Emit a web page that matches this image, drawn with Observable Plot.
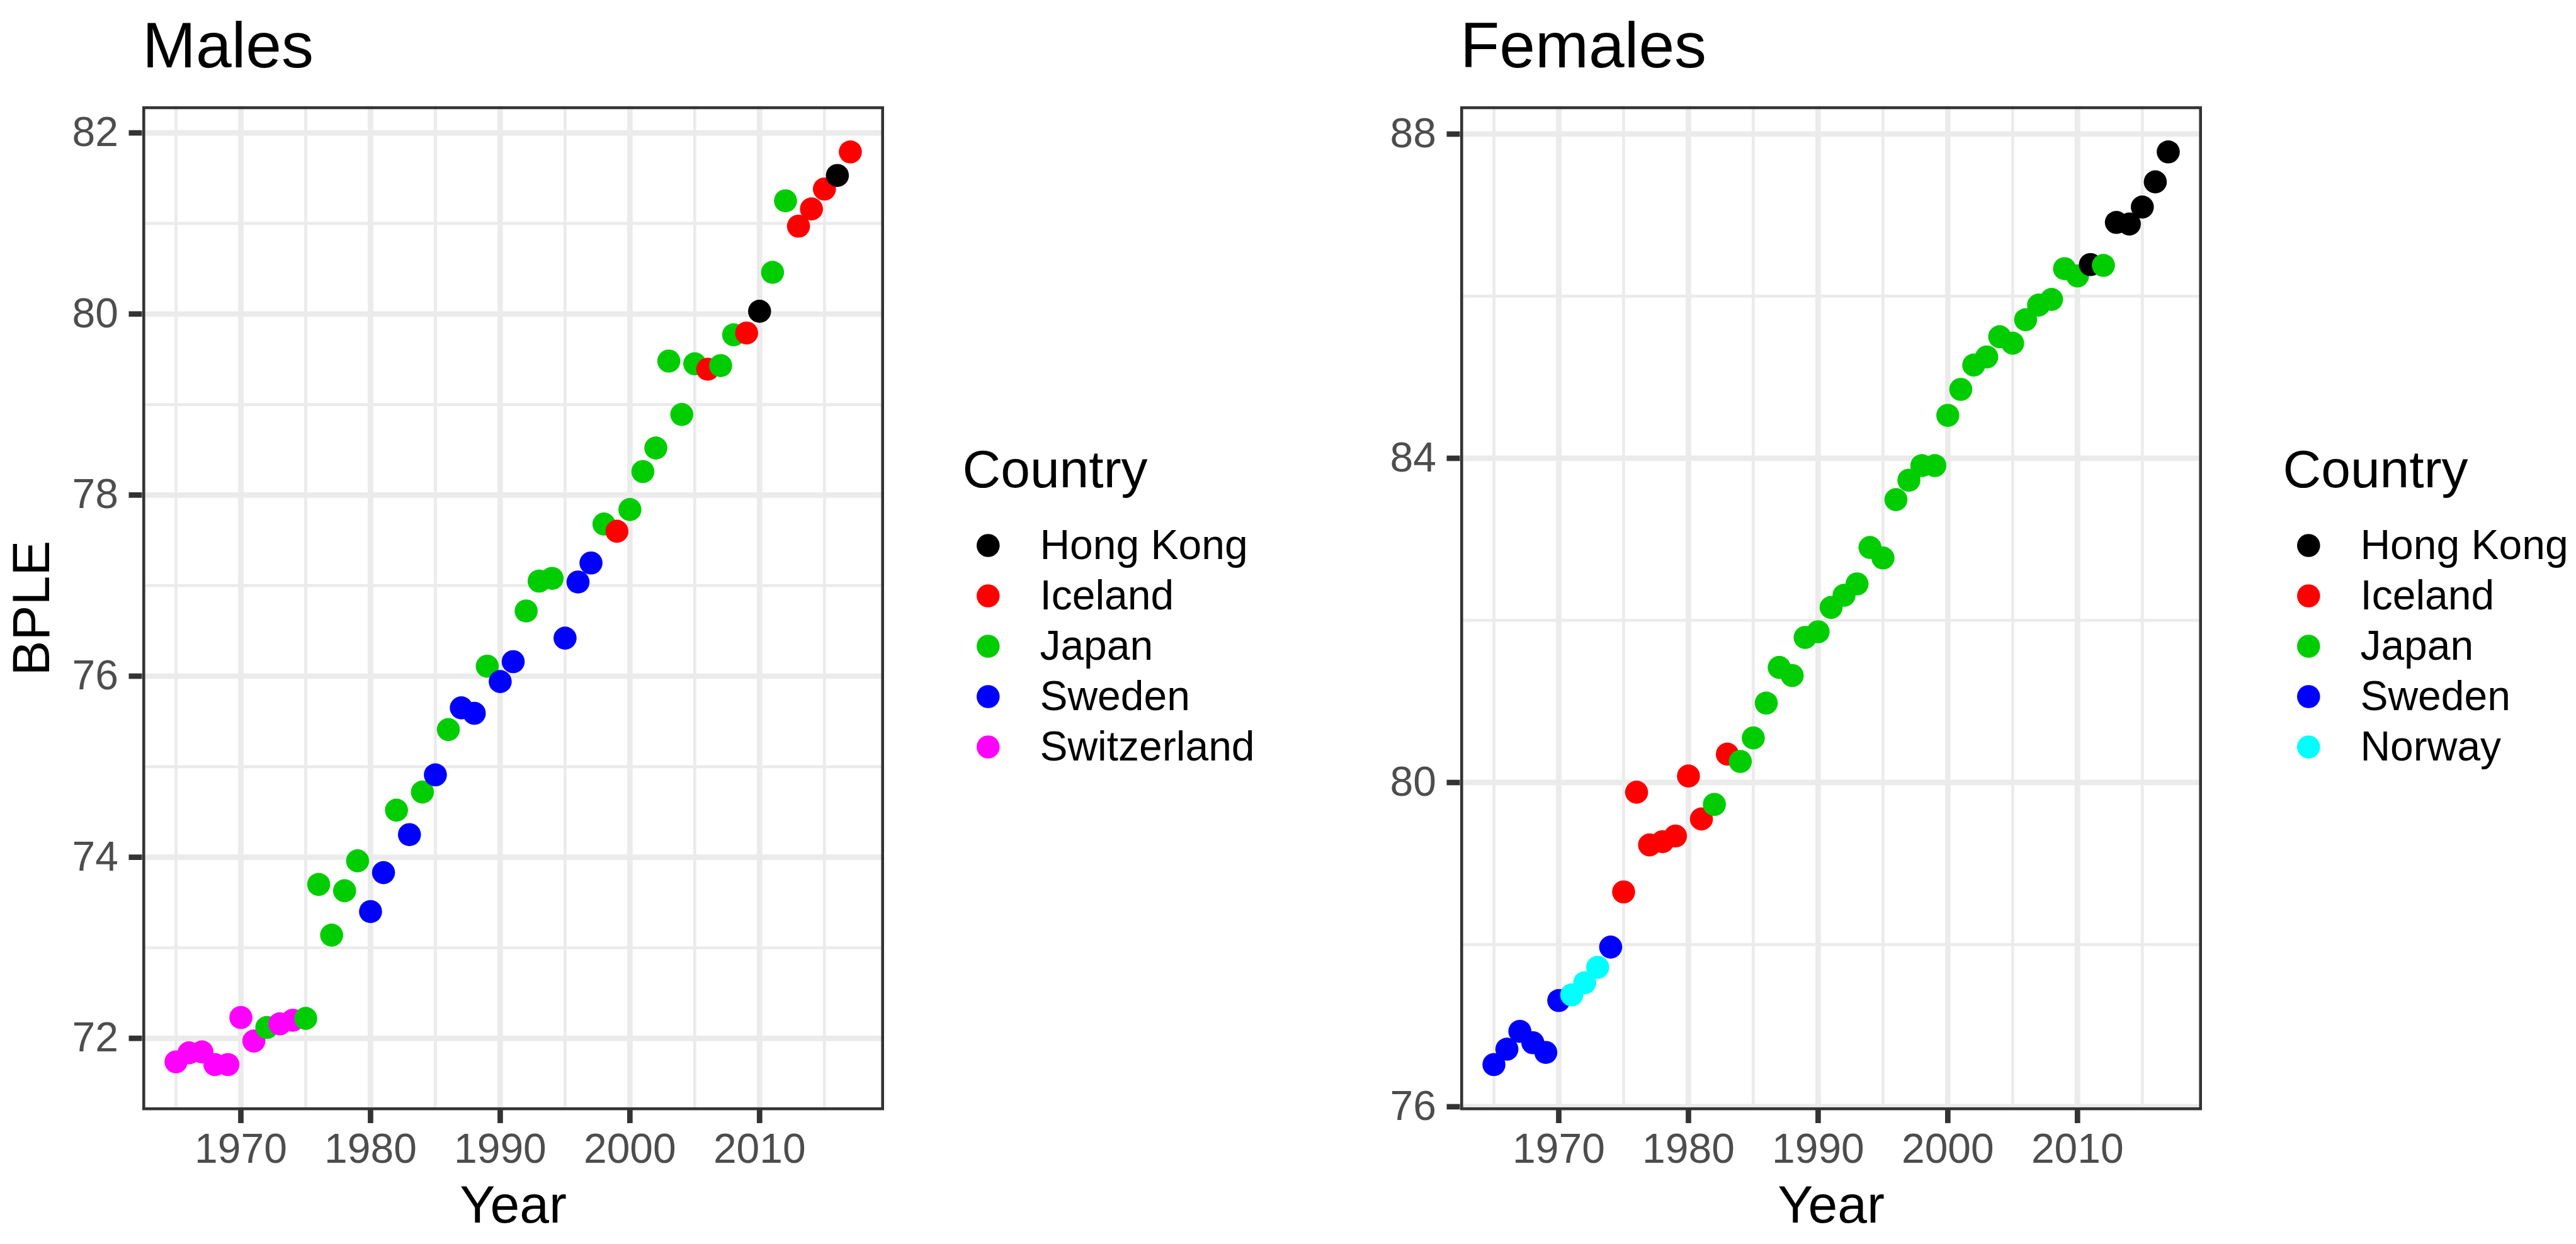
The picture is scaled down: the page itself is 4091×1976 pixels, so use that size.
<!DOCTYPE html>
<html>
<head>
<meta charset="utf-8">
<script src="https://cdn.jsdelivr.net/npm/d3@7"></script>
<script src="https://cdn.jsdelivr.net/npm/@observablehq/plot@0.6"></script>
<style>
html, body { margin: 0; padding: 0; background: #ffffff; }
#chart { position: relative; width: 4091px; height: 1976px; background: #ffffff; overflow: hidden; }
#chart > svg { position: absolute; top: 0; }
</style>
</head>
<body>
<div id="chart"></div>
<script>
// ---------------- data ----------------
const years = [1965, 1966, 1967, 1968, 1969, 1970, 1971, 1972, 1973, 1974,
  1975, 1976, 1977, 1978, 1979, 1980, 1981, 1982, 1983, 1984,
  1985, 1986, 1987, 1988, 1989, 1990, 1991, 1992, 1993, 1994,
  1995, 1996, 1997, 1998, 1999, 2000, 2001, 2002, 2003, 2004,
  2005, 2006, 2007, 2008, 2009, 2010, 2011, 2012, 2013, 2014,
  2015, 2016, 2017];

const maleCountry = [
  "Switzerland", "Switzerland", "Switzerland", "Switzerland", "Switzerland",
  "Switzerland", "Switzerland", "Japan", "Switzerland", "Switzerland",
  "Japan", "Japan", "Japan", "Japan", "Japan",
  "Sweden", "Sweden", "Japan", "Sweden", "Japan",
  "Sweden", "Japan", "Sweden", "Sweden", "Japan",
  "Sweden", "Sweden", "Japan", "Japan", "Japan",
  "Sweden", "Sweden", "Sweden", "Japan", "Iceland",
  "Japan", "Japan", "Japan", "Japan", "Japan",
  "Japan", "Iceland", "Japan", "Japan", "Iceland",
  "Hong Kong", "Japan", "Japan", "Iceland", "Iceland",
  "Iceland", "Hong Kong", "Iceland"];

const maleBPLE = [
  71.74, 71.84, 71.85, 71.71, 71.71, 72.23, 71.97, 72.12, 72.16, 72.20,
  72.22, 73.70, 73.14, 73.63, 73.96, 73.40, 73.83, 74.52, 74.25, 74.72,
  74.91, 75.41, 75.65, 75.59, 76.11, 75.94, 76.16, 76.72, 77.05, 77.08,
  76.42, 77.04, 77.25, 77.68, 77.60, 77.84, 78.26, 78.52, 79.48, 78.89,
  79.45, 79.39, 79.43, 79.77, 79.79, 80.03, 80.46, 81.25, 80.97, 81.16,
  81.38, 81.53, 81.79];

const femaleCountry = [
  "Sweden", "Sweden", "Sweden", "Sweden", "Sweden",
  "Sweden", "Norway", "Norway", "Norway", "Sweden",
  "Iceland", "Iceland", "Iceland", "Iceland", "Iceland",
  "Iceland", "Iceland", "Japan", "Iceland", "Japan",
  "Japan", "Japan", "Japan", "Japan", "Japan",
  "Japan", "Japan", "Japan", "Japan", "Japan",
  "Japan", "Japan", "Japan", "Japan", "Japan",
  "Japan", "Japan", "Japan", "Japan", "Japan",
  "Japan", "Japan", "Japan", "Japan", "Japan",
  "Japan", "Hong Kong", "Japan", "Hong Kong", "Hong Kong",
  "Hong Kong", "Hong Kong", "Hong Kong"];

const femaleBPLE = [
  76.52, 76.71, 76.93, 76.79, 76.67, 77.31, 77.38, 77.53, 77.72, 77.97,
  78.65, 79.88, 79.23, 79.27, 79.34, 80.08, 79.55, 79.73, 80.35, 80.26,
  80.55, 80.98, 81.42, 81.32, 81.79, 81.86, 82.16, 82.31, 82.45, 82.90,
  82.77, 83.49, 83.73, 83.91, 83.91, 84.53, 84.85, 85.15, 85.25, 85.50,
  85.42, 85.71, 85.89, 85.96, 86.34, 86.25, 86.39, 86.38, 86.91, 86.89,
  87.10, 87.41, 87.78];

const maleLegend = ["Hong Kong", "Iceland", "Japan", "Sweden", "Switzerland"];
const maleColors = ["#000000", "#FF0000", "#00CD00", "#0000FF", "#FF00FF"];
const femaleLegend = ["Hong Kong", "Iceland", "Japan", "Sweden", "Norway"];
const femaleColors = ["#000000", "#FF0000", "#00CD00", "#0000FF", "#00FFFF"];

const xMajor = [1970, 1980, 1990, 2000, 2010];
const xMinor = [1965, 1975, 1985, 1995, 2005, 2015];
const maleYMajor = [72, 74, 76, 78, 80, 82];
const maleYMinor = [73, 75, 77, 79, 81];
const femaleYMajor = [76, 80, 84, 88];
const femaleYMinor = [78, 82, 86];

// ---------------- helpers ----------------
const FONT = "'Liberation Sans', Arial, Helvetica, sans-serif";
const expand = ([a, b]) => { const d = (b - a) * 0.05; return [a - d, b + d]; };

const PW = 1500, PH = 1976;
const mL = 225.5, mT = 168.3, mB = PH - 1763, mR = PW - 1403.5;

function panel({title, values, countries, legend, colors, yMajor, yMinor, yLabel}) {
  const data = years.map((year, i) => ({year, value: values[i], country: countries[i]}));
  const gridMinor = {stroke: "#EBEBEB", strokeOpacity: 1, strokeWidth: 4.7};
  const gridMajor = {stroke: "#EBEBEB", strokeOpacity: 1, strokeWidth: 8.7};
  const marks = [
    Plot.gridX(xMinor, gridMinor),
    Plot.gridY(yMinor, gridMinor),
    Plot.gridX(xMajor, gridMajor),
    Plot.gridY(yMajor, gridMajor),
    Plot.dot(data, {x: "year", y: "value", fill: "country", r: 18.3}),
    Plot.frame({stroke: "#333333", strokeWidth: 4.6, inset: 2.3}),
    Plot.axisX(xMajor, {
      tickSize: 21, tickPadding: 16, fontSize: 66, fill: "#4D4D4D",
      stroke: "#333333", strokeWidth: 8.7, tickFormat: d => String(d), label: null
    }),
    Plot.axisY(yMajor, {
      tickSize: 21, tickPadding: 17, fontSize: 66, fill: "#4D4D4D",
      stroke: "#333333", strokeWidth: 8.7, tickFormat: d => String(d), label: null
    }),
    Plot.text([title], {
      text: d => d, frameAnchor: "top-left", dy: 106.7 - mT, lineAnchor: "bottom",
      textAnchor: "start", fontSize: 102, fill: "#000000"
    }),
    Plot.text(["Year"], {
      text: d => d, frameAnchor: "bottom", dy: 1941 - (PH - mB), lineAnchor: "bottom",
      textAnchor: "middle", fontSize: 84, fill: "#000000"
    })
  ];
  if (yLabel) {
    marks.push(Plot.text([yLabel], {
      text: d => d, frameAnchor: "left", dx: 77.3 - mL, rotate: -90, lineAnchor: "bottom",
      textAnchor: "middle", fontSize: 84, fill: "#000000"
    }));
  }
  return Plot.plot({
    width: PW, height: PH,
    marginLeft: mL, marginTop: mT, marginRight: mR, marginBottom: mB,
    x: {domain: expand(d3.extent(years)), axis: null},
    y: {domain: expand(d3.extent(values)), axis: null},
    color: {domain: legend, range: colors},
    style: {fontFamily: FONT, background: "transparent", overflow: "visible"},
    marks
  });
}

function legendPlot({legend, colors}) {
  return Plot.plot({
    width: 460, height: PH, margin: 0,
    x: {axis: null},
    y: {type: "point", domain: legend, range: [865, 1187], padding: 0, axis: null},
    color: {domain: legend, range: colors},
    style: {fontFamily: FONT, background: "transparent", overflow: "visible"},
    marks: [
      Plot.text(["Country"], {
        text: d => d, frameAnchor: "top-left", dy: 773.2, lineAnchor: "bottom",
        textAnchor: "start", fontSize: 84, fill: "#000000"
      }),
      Plot.dot(legend, {y: d => d, fill: d => d, frameAnchor: "left", dx: 40.8, r: 18.3}),
      Plot.text(legend, {
        y: d => d, text: d => d, frameAnchor: "left", dx: 122.9, textAnchor: "start",
        lineAnchor: "middle", fontSize: 66, fill: "#000000"
      })
    ]
  });
}

const chart = document.getElementById("chart");

const males = panel({title: "Males", values: maleBPLE, countries: maleCountry,
  legend: maleLegend, colors: maleColors, yMajor: maleYMajor, yMinor: maleYMinor, yLabel: "BPLE"});
males.style.left = "0px";
chart.appendChild(males);

const maleKey = legendPlot({legend: maleLegend, colors: maleColors});
maleKey.style.left = "1527.6px";
chart.appendChild(maleKey);

const females = panel({title: "Females", values: femaleBPLE, countries: femaleCountry,
  legend: femaleLegend, colors: femaleColors, yMajor: femaleYMajor, yMinor: femaleYMinor, yLabel: null});
females.style.left = "2093px";
chart.appendChild(females);

const femaleKey = legendPlot({legend: femaleLegend, colors: femaleColors});
femaleKey.style.left = "3625px";
chart.appendChild(femaleKey);
</script>
</body>
</html>
